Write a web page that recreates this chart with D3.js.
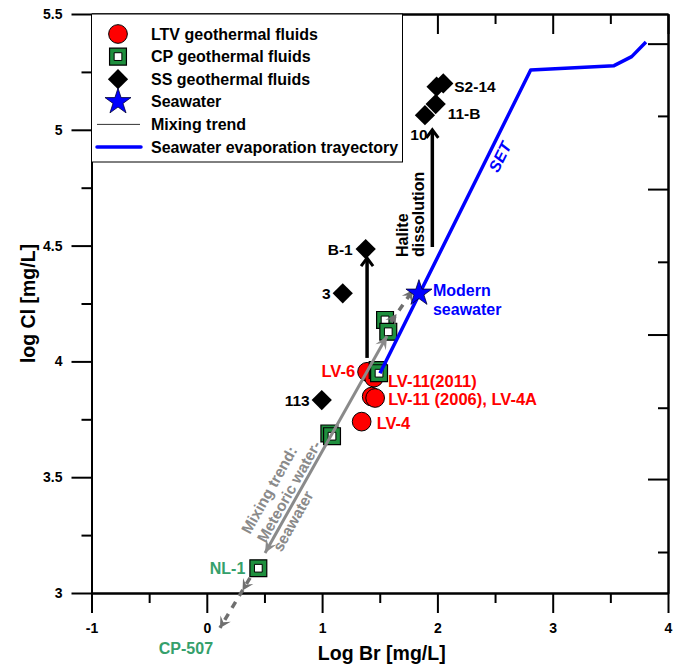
<!DOCTYPE html>
<html>
<head>
<meta charset="utf-8">
<script src="https://cdn.jsdelivr.net/npm/d3@7"></script>
<style>
  body { margin: 0; background: #fff; }
  text { font-family: "Liberation Sans", Arial, sans-serif; font-weight: bold; }
</style>
</head>
<body>
<svg id="chart"></svg>
<script>
// ---- data (log Br, log Cl in mg/L) ----
const ltvNames = ['LV-6', 'LV-11(2011)', 'LV-11 (2006)', 'LV-4A', 'LV-4'];
const ltvBr = [1.39, 1.45, 1.43, 1.46, 1.343];
const ltvCl = [3.955, 3.93, 3.848, 3.842, 3.740];

const cpBr = [1.546, 1.574, 1.482, 1.494, 1.063, 1.086, 0.447];
const cpCl = [4.179, 4.128, 3.963, 3.949, 3.689, 3.677, 3.107];

const ssBr = [1.378, 1.179, 0.997, 1.993, 2.051, 1.985, 1.892];
const ssCl = [4.485, 4.294, 3.833, 5.186, 5.200, 5.111, 5.063];

const seaBr = 1.84, seaCl = 4.294;

const setBr = [1.502, 2.809, 3.532, 3.685, 3.809];
const setCl = [3.949, 5.258, 5.277, 5.316, 5.379];

// halite dissolution arrows [br, clFrom, clTo]
const haliteArrows = [[1.39, 4.015, 4.446], [1.956, 4.494, 5.0]];
// mixing trend: solid double arrow and dashed extensions [br0, cl0, br1, cl1]
const mixSolid = [0.505, 3.173, 1.563, 4.110];
const mixDashed = [[1.598, 4.170, 1.788, 4.308], [0.375, 3.065, 0.114, 2.849]];

const xMajor = [-1, 0, 1, 2, 3, 4];
const xMinor = [-0.5, 0.5, 1.5, 2.5, 3.5];
const yMajor = [3, 3.5, 4, 4.5, 5, 5.5];
const yMinor = [3.25, 3.75, 4.25, 4.75, 5.25];
// right axis ticks (unlabelled secondary axis), in left-axis units
const rMajor = [3.492, 4.116, 4.744, 5.372];
const rMinor = [3.177, 3.80, 4.43, 5.06];

const legendItems = ['LTV geothermal fluids', 'CP geothermal fluids', 'SS geothermal fluids',
  'Seawater', 'Mixing trend', 'Seawater evaporation trayectory'];

// ---- setup ----
const width = 684, height = 665;
const margin = { top: 14, right: 16, bottom: 72, left: 91.5 };
const red = '#ff0000', green = '#1f8f3e', blue = '#0000ff', gray = '#8a8a8a', dgray = '#6f6f6f';
const labelGreen = '#35a06b';

const svg = d3.select('#chart').attr('width', width).attr('height', height);

const x = d3.scaleLinear().domain([-1, 4]).range([margin.left, width - margin.right]);
const y = d3.scaleLinear().domain([3, 5.5]).range([height - margin.bottom, margin.top]);

/// axes ///
function styleAxis(g, noLabels) {
  g.selectAll('line,path').attr('stroke', '#000').attr('stroke-width', 2);
  g.selectAll('text').attr('fill', '#000').style('font-size', '14px');
  if (noLabels) g.selectAll('text').remove();
}

svg.append('g').attr('transform', `translate(0,${y(3)})`)
  .call(d3.axisBottom(x).tickValues(xMajor).tickSize(20).tickSizeOuter(0).tickPadding(10).tickFormat(d => d))
  .call(styleAxis);
svg.append('g').attr('transform', `translate(0,${y(3)})`)
  .call(d3.axisBottom(x).tickValues(xMinor).tickSize(10).tickSizeOuter(0))
  .call(g => styleAxis(g, true));

svg.append('g').attr('transform', `translate(${x(-1)},0)`)
  .call(d3.axisLeft(y).tickValues(yMajor).tickSize(20).tickSizeOuter(0).tickPadding(9).tickFormat(d => d))
  .call(styleAxis);
svg.append('g').attr('transform', `translate(${x(-1)},0)`)
  .call(d3.axisLeft(y).tickValues(yMinor).tickSize(10).tickSizeOuter(0))
  .call(g => styleAxis(g, true));

svg.append('g').attr('transform', `translate(0,${y(5.5)})`)
  .call(d3.axisTop(x).tickValues(xMajor).tickSize(-20).tickSizeOuter(0))
  .call(g => styleAxis(g, true));
svg.append('g').attr('transform', `translate(0,${y(5.5)})`)
  .call(d3.axisTop(x).tickValues(xMinor).tickSize(-10).tickSizeOuter(0))
  .call(g => styleAxis(g, true));

svg.append('g').attr('transform', `translate(${x(4)},0)`)
  .call(d3.axisRight(y).tickValues(rMajor).tickSize(-20).tickSizeOuter(0))
  .call(g => styleAxis(g, true));
svg.append('g').attr('transform', `translate(${x(4)},0)`)
  .call(d3.axisRight(y).tickValues(rMinor).tickSize(-10).tickSizeOuter(0))
  .call(g => styleAxis(g, true));

// axis titles
svg.append('text').attr('x', (x(-1) + x(4)) / 2 + 2).attr('y', 660)
  .attr('text-anchor', 'middle').style('font-size', '19.5px').text('Log Br [mg/L]');
svg.append('text').attr('transform', `translate(35,${(y(3) + y(5.5)) / 2}) rotate(-90)`)
  .attr('text-anchor', 'middle').style('font-size', '19.5px').text('log Cl [mg/L]');

/// symbols ///
const circleSym = d3.symbol().type(d3.symbolCircle).size(275);
const squareSym = d3.symbol().type(d3.symbolSquare).size(285);
const innerSym = d3.symbol().type(d3.symbolSquare).size(60);
const diamondSym = d3.symbol().type(d3.symbolSquare).size(205);
const starSym = d3.symbol().type(d3.symbolStar).size(210);

function drawCircle(g, px, py) {
  g.append('path').attr('d', circleSym).attr('transform', `translate(${px},${py})`)
    .attr('fill', red).attr('stroke', '#000').attr('stroke-width', 1);
}
function drawSquare(g, px, py) {
  g.append('path').attr('d', squareSym).attr('transform', `translate(${px},${py})`)
    .attr('fill', green).attr('stroke', '#000').attr('stroke-width', 1.2);
  g.append('path').attr('d', innerSym).attr('transform', `translate(${px},${py})`)
    .attr('fill', '#fff').attr('stroke', '#000').attr('stroke-width', 1);
}
function drawDiamond(g, px, py) {
  g.append('path').attr('d', diamondSym).attr('transform', `translate(${px},${py}) rotate(45)`)
    .attr('fill', '#000');
}
function drawStar(g, px, py) {
  g.append('path').attr('d', starSym).attr('transform', `translate(${px},${py})`)
    .attr('fill', blue).attr('stroke', '#000033').attr('stroke-width', 0.8);
}

const marks = svg.append('g');
ltvBr.forEach((b, i) => drawCircle(marks, x(b), y(ltvCl[i])));
cpBr.forEach((b, i) => drawSquare(marks, x(b), y(cpCl[i])));
ssBr.forEach((b, i) => drawDiamond(marks, x(b), y(ssCl[i])));

/// arrows ///
function arrowHead(g, x0, y0, x1, y1, opts) {
  const a = Math.atan2(y1 - y0, x1 - x0);
  const L = opts.len, W = opts.wid;
  const pt = (d, s) => [x1 - d * Math.cos(a) + s * Math.sin(a), y1 - d * Math.sin(a) - s * Math.cos(a)];
  if (opts.filled) {
    const p = [[x1, y1], pt(L, W), pt(L * 0.6, 0), pt(L, -W)];
    g.append('path').attr('d', 'M' + p.join('L') + 'Z').attr('fill', opts.color);
  } else {
    const p = [pt(L, W), [x1, y1], pt(L, -W)];
    g.append('path').attr('d', 'M' + p.join('L')).attr('fill', 'none')
      .attr('stroke', opts.color).attr('stroke-width', opts.sw);
  }
}

const arrows = svg.append('g');

// mixing trend (gray)
{
  const [b0, c0, b1, c1] = mixSolid;
  arrows.append('line').attr('x1', x(b0)).attr('y1', y(c0)).attr('x2', x(b1)).attr('y2', y(c1))
    .attr('stroke', gray).attr('stroke-width', 3);
  arrowHead(arrows, x(b0), y(c0), x(b1), y(c1), { len: 13, wid: 6, filled: true, color: gray });
  arrowHead(arrows, x(b1), y(c1), x(b0), y(c0), { len: 13, wid: 6, filled: true, color: gray });
}
mixDashed.forEach(([b0, c0, b1, c1]) => {
  arrows.append('line').attr('x1', x(b0)).attr('y1', y(c0)).attr('x2', x(b1)).attr('y2', y(c1))
    .attr('stroke', dgray).attr('stroke-width', 3.5).attr('stroke-dasharray', '7,7');
  const mx = x(b0) + (x(b1) - x(b0)) * 0.25, my = y(c0) + (y(c1) - y(c0)) * 0.25;
  arrowHead(arrows, x(b0), y(c0), mx, my, { len: 11, wid: 6, filled: true, color: dgray });
  arrowHead(arrows, x(b0), y(c0), x(b1), y(c1), { len: 11, wid: 6, filled: true, color: dgray });
});

// seawater evaporation trajectory
svg.append('path')
  .datum(setBr.map((b, i) => [b, setCl[i]]))
  .attr('d', d3.line().x(d => x(d[0])).y(d => y(d[1])))
  .attr('fill', 'none').attr('stroke', blue).attr('stroke-width', 3.5).attr('stroke-linejoin', 'round');

drawStar(svg, x(seaBr), y(seaCl));

// halite dissolution arrows
haliteArrows.forEach(([b, c0, c1]) => {
  arrows.append('line').attr('x1', x(b)).attr('y1', y(c0)).attr('x2', x(b)).attr('y2', y(c1) + 1)
    .attr('stroke', '#000').attr('stroke-width', 3.5);
  arrowHead(arrows, x(b), y(c0), x(b), y(c1), { len: 8, wid: 6, filled: false, color: '#000', sw: 3 });
});

/// labels ///
const labels = svg.append('g');
function label(txt, px, py, anchor, color, size) {
  labels.append('text').attr('x', px).attr('y', py).attr('text-anchor', anchor || 'start')
    .attr('dominant-baseline', 'central').attr('fill', color || '#000')
    .style('font-size', (size || 15.5) + 'px').text(txt);
}
label('B-1', x(ssBr[0]) - 13, y(ssCl[0]), 'end');
label('3', x(ssBr[1]) - 12, y(ssCl[1]), 'end');
label('113', x(ssBr[2]) - 12, y(ssCl[2]), 'end');
label('S2-14', x(ssBr[4]) + 11, y(ssCl[4]) + 3);
label('11-B', x(ssBr[5]) + 12, y(ssCl[5]) + 9);
label('10', x(ssBr[6]) - 6, y(ssCl[6]) + 19, 'middle');

label('LV-6', x(ltvBr[0]) - 12, y(ltvCl[0]) - 1, 'end', red, 16.5);
label('LV-11(2011)', x(ltvBr[1]) + 14, y(ltvCl[1]) + 3, 'start', red, 16.5);
label('LV-11 (2006), LV-4A', x(ltvBr[3]) + 13, y(ltvCl[3]) + 1, 'start', red, 16.5);
label('LV-4', x(ltvBr[4]) + 15, y(ltvCl[4]) + 1, 'start', red, 16.5);

label('Modern', x(seaBr) + 14, y(seaCl) - 3, 'start', blue, 16);
label('seawater', x(seaBr) + 14, y(seaCl) + 16, 'start', blue, 16);

label('NL-1', x(cpBr[6]) - 13, y(cpCl[6]), 'end', labelGreen, 16);
label('CP-507', x(mixDashed[1][2]) - 34, 648, 'middle', labelGreen, 16);

// SET label along the line
{
  const a = Math.atan2(y(setCl[1]) - y(setCl[0]), x(setBr[1]) - x(setBr[0])) * 180 / Math.PI;
  labels.append('text').attr('transform', `translate(500,157) rotate(${a})`)
    .attr('text-anchor', 'middle').attr('dominant-baseline', 'central')
    .attr('fill', blue).style('font-size', '16px').style('font-style', 'italic').text('SET');
}

// halite dissolution
['Halite', 'dissolution'].forEach((t, i) => {
  labels.append('text').attr('transform', `translate(${408 + i * 16},257) rotate(-90)`)
    .attr('text-anchor', 'start').style('font-size', '16px').text(t);
});

// mixing trend text
{
  const [b0, c0, b1, c1] = mixSolid;
  const a = Math.atan2(y(c1) - y(c0), x(b1) - x(b0)) * 180 / Math.PI;
  ['Mixing trend:', 'Meteoric water-', 'seawater'].forEach((t, i) => {
    labels.append('text')
      .attr('transform', `translate(250,535) rotate(${a}) translate(0,${i * 18})`)
      .attr('fill', gray).style('font-size', '15.5px').text(t);
  });
}

/// legend ///
const legend = svg.append('g');
legend.append('rect').attr('x', x(-1)).attr('y', y(5.5)).attr('width', 311).attr('height', 148)
  .attr('fill', '#fff').attr('stroke', '#000').attr('stroke-width', 1);
legendItems.forEach((t, i) => {
  const ly = 34 + i * 22.6;
  legend.append('text').attr('x', 151).attr('y', ly).attr('dominant-baseline', 'central')
    .style('font-size', '16px').text(t);
  if (i === 0) drawCircle(legend, 118, ly);
  if (i === 1) drawSquare(legend, 118, ly);
  if (i === 2) drawDiamond(legend, 118, ly);
  if (i === 3) drawStar(legend, 118, ly);
  if (i === 4) legend.append('line').attr('x1', 97).attr('x2', 140).attr('y1', ly).attr('y2', ly)
    .attr('stroke', '#333').attr('stroke-width', 1);
  if (i === 5) legend.append('line').attr('x1', 97).attr('x2', 141).attr('y1', ly).attr('y2', ly)
    .attr('stroke', blue).attr('stroke-width', 3.5).attr('stroke-linecap', 'round');
});
</script>
</body>
</html>
